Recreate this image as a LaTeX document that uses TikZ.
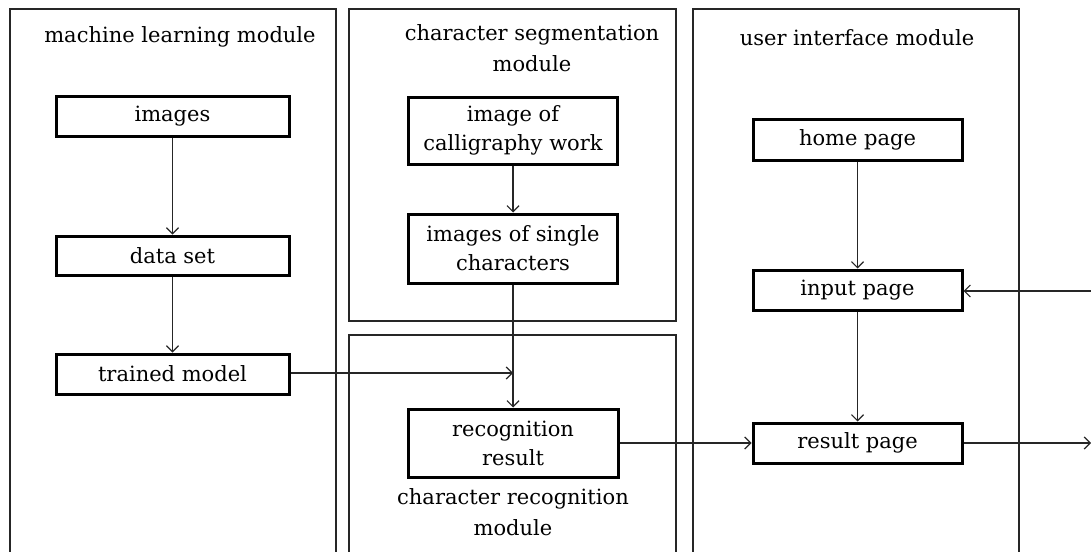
\documentclass[tikz,border=0pt]{standalone}
\usepackage{fontspec}
\setmainfont{DejaVu Serif}
\usetikzlibrary{arrows.meta}
\begin{document}
\begin{tikzpicture}[x=1pt,y=-1pt,
  panel/.style={draw=black!85,line width=1.4pt},
  ttl/.style={font=\fontsize{21}{31}\selectfont,align=center,inner sep=0pt},
  box/.style={draw=black,line width=3pt,minimum width=#1,align=center,inner sep=0pt,font=\fontsize{21}{29}\selectfont},
  box/.default=233pt,
  arr/.style={draw=black!85,line width=1.2pt,-{Straight Barb[length=6pt,width=12pt,line width=1.2pt]}}]
\useasboundingbox (0,0) rectangle (1091,551);
\clip (0,0) rectangle (1091,551);
% panels
\draw[panel] (10,560) -- (10,9) -- (336,9) -- (336,560);
\draw[panel] (349,9) rectangle (676,321);
\draw[panel] (349,560) -- (349,335) -- (676,335) -- (676,560);
\draw[panel] (693,560) -- (693,9) -- (1019,9) -- (1019,560);
% titles
\node[ttl] (t1) at (180,37) {machine learning module};
\node[ttl] (t2) at (532,48) {character segmentation\\module};
\node[ttl] (t3) at (857,38) {user interface module};
\node[ttl] (t4) at (513,512) {character recognition\\module};
% boxes
\node[box=233pt,minimum height=40pt] (img) at (172.5,116) {images};
\node[box=233pt,minimum height=39pt] (ds) at (172.5,255.5) {data set};
\node[box=233pt,minimum height=40pt] (tm) at (172.5,374) {trained model};
\node[box=209pt,minimum height=67pt] (cal) at (513,130.5) {image of\\calligraphy work};
\node[box=209pt,minimum height=69pt] (sgl) at (513,248.5) {images of single\\characters};
\node[box=210pt,minimum height=68pt] (rec) at (513,443) {recognition\\result};
\node[box=209pt,minimum height=41pt] (home) at (857.5,139.5) {home page};
\node[box=209pt,minimum height=40pt] (inp) at (857.5,290) {input page};
\node[box=209pt,minimum height=40pt] (res) at (857.5,443) {result page};
% free ends
\coordinate (join) at (513,373);
\coordinate (inR) at (1095,291);
\coordinate (outR) at (1091,443);
% connectors
\draw[arr] (img) -- (ds);
\draw[arr] (ds) -- (tm);
\draw[arr] (cal) -- (sgl);
\draw[arr] (sgl.south) -- (rec.north);
\draw[arr] (tm.east |- join) -- (join);
\draw[arr] (rec.east) -- (res.west);
\draw[arr] (home) -- (inp);
\draw[arr] (inp) -- (res);
\draw[arr] (inR) -- (inp.east |- inR);
\draw[arr] (res.east) -- (outR);
\end{tikzpicture}
\end{document}
